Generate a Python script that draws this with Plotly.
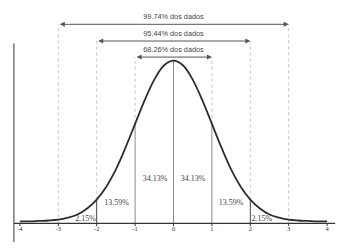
import plotly.graph_objects as go

# ---- data ----
curve_x = [-4, -3.75, -3.5, -3.25, -3, -2.75, -2.5, -2.25, -2, -1.75, -1.5, -1.25, -1, -0.75, -0.5, -0.25, 0,
           0.25, 0.5, 0.75, 1, 1.25, 1.5, 1.75, 2, 2.25, 2.5, 2.75, 3, 3.25, 3.5, 3.75, 4]
curve_y = [0.005, 0.005, 0.006, 0.007, 0.009, 0.014, 0.022, 0.037, 0.059, 0.091, 0.134, 0.188, 0.247, 0.306, 0.357, 0.392, 0.404,
           0.392, 0.357, 0.306, 0.247, 0.188, 0.134, 0.091, 0.059, 0.037, 0.022, 0.014, 0.009, 0.007, 0.006, 0.005, 0.005]
tick_vals = [-4, -3, -2, -1, 0, 1, 2, 3, 4]
tick_labels = ["-4", "-3", "-2", "-1", "0", "1", "2", "3", "4"]
band_sigma = [1, 2, 3]
band_labels = ["68.26% dos dados", "95.44% dos dados", "99.74% dos dados"]
band_arrow_y = [0.413, 0.4529, 0.4944]
band_label_y = [0.431, 0.4705, 0.5115]
pct_labels = ["2.15%", "13.59%", "34.13%", "34.13%", "13.59%", "2.15%"]
pct_x = [-2.29, -1.48, -0.48, 0.51, 1.50, 2.30]
pct_y = [0.0099, 0.0497, 0.1101, 0.1101, 0.0497, 0.0099]

def cval(x):
    return curve_y[curve_x.index(x)]

fig = go.Figure()

# dotted guide lines above the curve
for s in band_sigma:
    top = band_arrow_y[s - 1]
    for sx in (-s, s):
        base = 0 if s == 3 else cval(sx)
        fig.add_trace(go.Scatter(x=[sx, sx], y=[base, top], mode="lines",
                                 line=dict(color="#c4c4c4", width=1, dash="dot"),
                                 hoverinfo="skip", showlegend=False))

# solid verticals under the curve
for sx, col in [(-2, "#444444"), (-1, "#8a8a8a"), (0, "#8a8a8a"), (1, "#8a8a8a"), (2, "#444444")]:
    fig.add_trace(go.Scatter(x=[sx, sx], y=[0, cval(sx)], mode="lines",
                             line=dict(color=col, width=1), hoverinfo="skip", showlegend=False))

# axes
fig.add_trace(go.Scatter(x=[-4.16, 4.21], y=[0, 0], mode="lines",
                         line=dict(color="#333333", width=1.2), hoverinfo="skip", showlegend=False))
fig.add_trace(go.Scatter(x=[-4.156, -4.156], y=[-0.0467, 0.447], mode="lines",
                         line=dict(color="#555555", width=1.2), hoverinfo="skip", showlegend=False))
for t in tick_vals:
    fig.add_trace(go.Scatter(x=[t, t], y=[0, -0.007], mode="lines",
                             line=dict(color="#333333", width=1), hoverinfo="skip", showlegend=False))

# curve
fig.add_trace(go.Scatter(x=curve_x, y=curve_y, mode="lines", line=dict(color="#2e2e2e", width=1.8, shape="spline"),
                         hoverinfo="skip", showlegend=False))

# tick labels
fig.add_trace(go.Scatter(x=tick_vals, y=[-0.0155] * len(tick_vals), mode="text", text=tick_labels,
                         textfont=dict(family="Liberation Serif", size=6.5, color="#333333"),
                         hoverinfo="skip", showlegend=False))

# percentage labels
fig.add_trace(go.Scatter(x=pct_x, y=pct_y, mode="text", text=pct_labels,
                         textfont=dict(family="Liberation Serif", size=8, color="#444444"),
                         hoverinfo="skip", showlegend=False))

# band labels
fig.add_trace(go.Scatter(x=[0, 0, 0], y=band_label_y, mode="text", text=band_labels,
                         textfont=dict(family="Liberation Sans", size=7.3, color="#444444"),
                         hoverinfo="skip", showlegend=False))

# double-headed arrows
for s in band_sigma:
    y = band_arrow_y[s - 1]
    fig.add_annotation(x=s, y=y, ax=-s, ay=y, xref="x", yref="y", axref="x", ayref="y",
                       text="", showarrow=True, arrowhead=2, startarrowhead=2, arrowside="end+start",
                       arrowsize=1, arrowwidth=1, arrowcolor="#555555", standoff=0, startstandoff=0)

fig.update_layout(width=350, height=250, margin=dict(l=0, r=0, t=0, b=0),
                  paper_bgcolor="white", plot_bgcolor="white", showlegend=False)
fig.update_xaxes(range=[-4.518, 4.596], visible=False, fixedrange=True)
fig.update_yaxes(range=[-0.0663, 0.5548], visible=False, fixedrange=True)

fig.write_html("out.html")
